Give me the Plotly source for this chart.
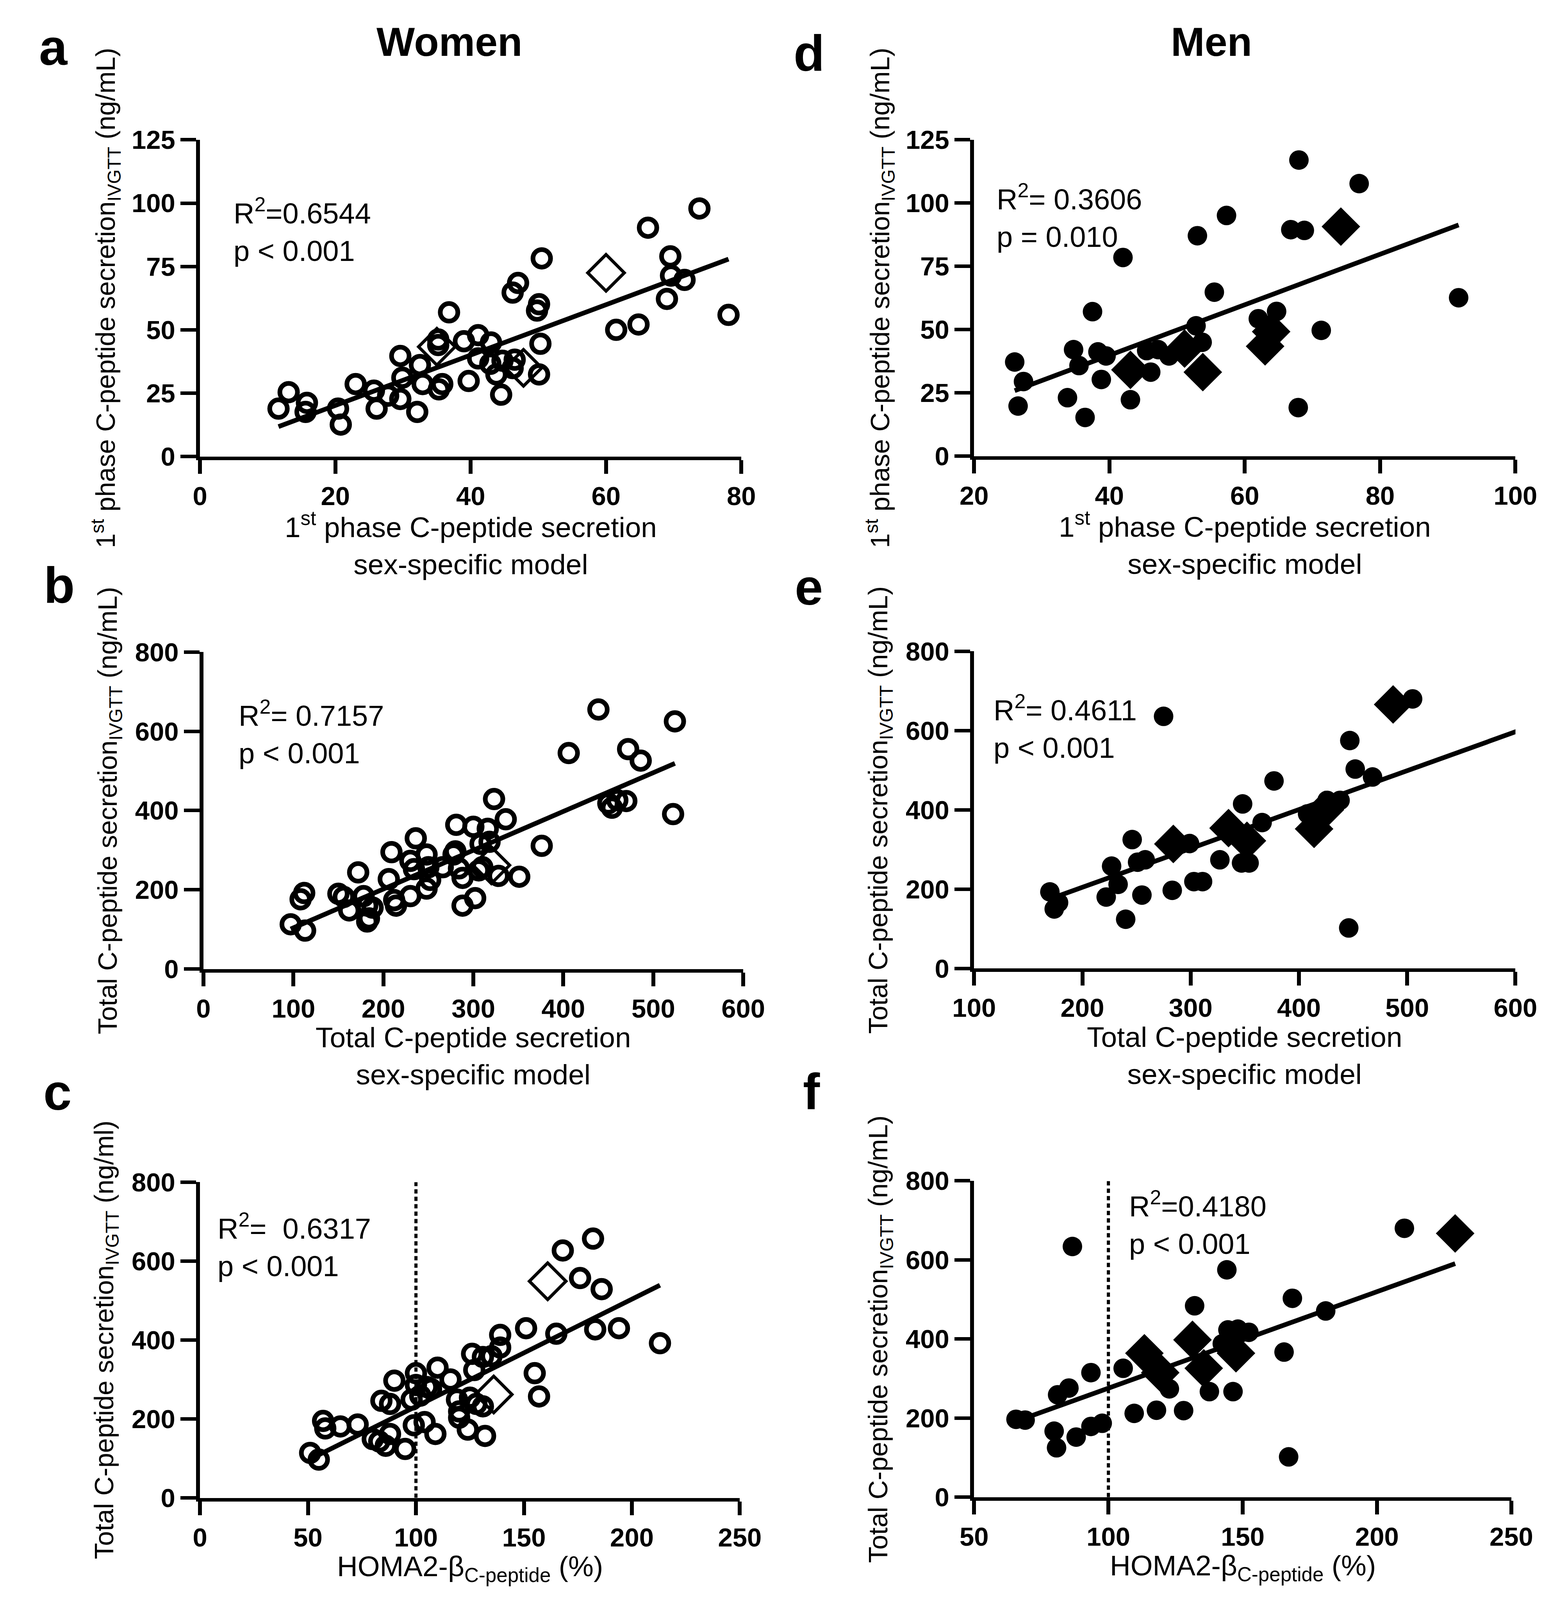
import plotly.graph_objects as go

W, H = 4015, 4748          # reference size; all pixel positions below are in this frame
HF = 4110                  # drawn height, so that the whole figure fits in the photographed page
FONT = "Liberation Sans, Arial, sans-serif"

# ---------------- data ----------------
# a: women, 1st phase
a_circ_x = [13.1, 11.6, 15.8, 15.6, 20.4, 20.8, 23.0, 26.1, 25.7, 27.8,
            29.6, 29.9, 29.6, 32.1, 32.5, 32.9, 35.3, 35.8, 35.2, 36.8,
            39.0, 39.7, 41.1, 41.1, 43.0, 42.9, 43.8, 44.5, 44.7, 46.2,
            46.5, 46.2, 47.0, 49.8, 50.1, 50.3, 50.1, 50.5, 61.5, 64.8,
            66.2, 69.0, 69.5, 69.6, 71.6, 73.8, 78.1, 35.2]
a_circ_y = [25.4, 18.9, 21.2, 17.6, 18.9, 12.6, 28.6, 18.9, 26.0, 24.0,
            39.7, 31.1, 22.7, 17.6, 36.1, 28.6, 26.5, 28.6, 46.2, 56.9,
            45.5, 29.8, 47.9, 38.7, 45.0, 36.6, 32.4, 24.4, 37.8, 34.9,
            38.2, 64.7, 68.5, 57.6, 60.1, 44.5, 32.4, 78.2, 50.0, 52.1,
            90.3, 62.2, 79.0, 71.4, 69.7, 97.9, 55.9, 44.0]
a_diam_x = [35.0, 47.8, 60.0]
a_diam_y = [43.3, 35.0, 72.5]

# b: women, total
b_circ_x = [97, 113, 108, 112, 150, 156, 162, 172, 178, 182, 184, 182, 188, 206,
            209, 212, 214, 230, 230, 236, 234, 248, 248, 252, 250, 266, 280, 278,
            281, 284, 288, 300, 316, 308, 318, 310, 306, 302, 288, 323, 336, 328,
            351, 376, 406, 439, 472, 486, 450, 454, 460, 470, 524, 522]
b_circ_y = [113, 97, 176, 192, 190, 182, 148, 244, 184, 160, 128, 120, 155, 227,
            295, 174, 160, 184, 273, 330, 252, 289, 203, 225, 257, 257, 297, 289,
            364, 254, 230, 359, 354, 316, 321, 257, 249, 179, 160, 429, 378, 235,
            233, 311, 545, 655, 555, 526, 418, 407, 426, 424, 625, 391]
b_diam_x = [320]
b_diam_y = [262]

# c: women, HOMA2-beta
c_circ_x = [51, 55, 57, 58, 65, 73, 80, 83, 86, 88, 95, 84, 88, 90, 98, 100, 100,
            99, 104, 102, 105, 107, 109, 110, 116, 119, 120, 120, 124, 126, 127,
            125, 128, 131, 132, 131, 135, 139, 139, 151, 155, 157, 165, 168, 176,
            182, 186, 183, 194, 213]
c_circ_y = [114, 97, 195, 176, 181, 186, 149, 143, 132, 162, 124, 246, 238, 297,
            249, 316, 286, 184, 192, 259, 281, 276, 162, 330, 300, 249, 219, 203,
            173, 365, 324, 254, 238, 232, 157, 357, 359, 381, 413, 430, 316, 257,
            416, 627, 557, 657, 529, 427, 430, 392]
c_diam_x = [136, 161]
c_diam_y = [262, 549]

# d: men, 1st phase
d_circ_x = [26.0, 26.5, 27.3, 34.7, 35.5, 33.8, 37.5, 38.3, 39.5, 38.8, 36.4,
            42.0, 43.1, 45.5, 47.2, 46.1, 48.8, 52.8, 53.7, 53.0, 55.5, 57.3,
            62.0, 64.7, 66.8, 68.8, 68.0, 67.9, 71.3, 76.9, 91.6]
d_circ_y = [37.2, 19.8, 29.5, 42.1, 35.8, 23.1, 57.1, 41.2, 39.6, 30.3, 15.3,
            78.5, 22.3, 41.7, 42.1, 33.2, 39.6, 51.5, 45.0, 87.1, 64.8, 95.1,
            54.3, 57.2, 89.5, 89.2, 117.0, 19.2, 49.7, 107.7, 62.6]
d_diam_x = [43.1, 51.1, 53.8, 63.9, 63.0, 74.2]
d_diam_y = [34.1, 42.5, 33.2, 49.2, 43.4, 90.7]

# e: men, total
e_circ_x = [170, 178, 174, 227, 233, 222, 240, 246, 251, 258, 255, 299, 283, 275,
            303, 311, 327, 347, 354, 348, 366, 377, 426, 438, 447, 452, 468, 505,
            446, 601, 408]
e_circ_y = [193, 166, 150, 258, 212, 180, 124, 325, 268, 274, 185, 315, 197, 636,
            219, 219, 274, 266, 266, 415, 368, 473, 424, 424, 575, 503, 483, 680,
            102, 466, 390]
e_diam_x = [284, 335, 352, 414, 424, 487]
e_diam_y = [314, 354, 322, 352, 400, 666]

# f: men, HOMA2-beta
f_circ_x = [65.6, 69.0, 79.8, 80.7, 81.1, 85.3, 86.6, 88.0, 93.5, 93.5, 97.7,
            105.5, 109.6, 117.9, 122.7, 128.0, 132.1, 137.6, 142.4, 144.1, 144.5,
            148.2, 152.3, 146.4, 165.4, 167.1, 168.5, 180.9, 210.2]
f_circ_y = [197, 195, 167, 125, 259, 276, 634, 152, 179, 315, 187, 326, 212, 220,
            274, 219, 484, 267, 388, 575, 423, 425, 417, 267, 367, 102, 503, 471, 680]
f_diam_x = [113.4, 119.3, 131.3, 135.5, 147.5, 229.1]
f_diam_y = [364, 315, 398, 326, 364, 667]

# linear fits (slope, intercept)
fit_slope = {"a": 0.994, "b": 0.979, "c": 2.72, "d": 0.998, "e": 0.981, "f": 2.44}
fit_icpt = {"a": 0.27, "b": 6.1, "c": -40.5, "d": -0.06, "e": 8.4, "f": 31.7}

stats_text = {
    "a": "R<sup>2</sup>=0.6544<br>p < 0.001",
    "b": "R<sup>2</sup>= 0.7157<br>p < 0.001",
    "c": "R<sup>2</sup>=\u00a0 0.6317<br>p < 0.001",
    "d": "R<sup>2</sup>= 0.3606<br>p = 0.010",
    "e": "R<sup>2</sup>= 0.4611<br>p < 0.001",
    "f": "R<sup>2</sup>=0.4180<br>p < 0.001",
}

y_titles = {
    "a": "1<sup>st</sup> phase C-peptide secretion<sub>IVGTT</sub> (ng/mL)",
    "b": "Total C-peptide secretion<sub>IVGTT</sub> (ng/mL)",
    "c": "Total C-peptide secretion<sub>IVGTT</sub> (ng/ml)",
    "d": "1<sup>st</sup> phase C-peptide secretion<sub>IVGTT</sub> (ng/mL)",
    "e": "Total C-peptide secretion<sub>IVGTT</sub> (ng/mL)",
    "f": "Total C-peptide secretion<sub>IVGTT</sub> (ng/mL)",
}
x_titles = {
    "a": "1<sup>st</sup> phase C-peptide secretion<br>sex-specific model",
    "b": "Total C-peptide secretion<br>sex-specific model",
    "c": "HOMA2-\u03b2<sub>C-peptide</sub> (%)",
    "d": "1<sup>st</sup> phase C-peptide secretion<br>sex-specific model",
    "e": "Total C-peptide secretion<br>sex-specific model",
    "f": "HOMA2-\u03b2<sub>C-peptide</sub> (%)",
}

# ---------------- layout geometry (pixels of the reference) ----------------
# left, right, top, bottom of each plot area
boxes = {
    "a": (461, 1887, 367, 1321),
    "b": (470, 1892, 1910, 2865),
    "c": (461, 1883, 3507, 4458),
    "d": (2500, 3926, 367, 1320),
    "e": (2500, 3926, 1908, 2863),
    "f": (2500, 3915, 3503, 4456),
}
xr = {"a": [0, 80], "b": [0, 600], "c": [0, 250], "d": [20, 100], "e": [100, 600], "f": [50, 250]}
yr = {"a": [0, 125], "b": [0, 800], "c": [0, 800], "d": [0, 125], "e": [0, 800], "f": [0, 800]}
xd = {"a": 20, "b": 100, "c": 50, "d": 20, "e": 100, "f": 50}
yd = {"a": 25, "b": 200, "c": 200, "d": 25, "e": 200, "f": 200}
stats_pos = {"a": (547, 525), "b": (561, 2038), "c": (505, 3583),
             "d": (2557, 482), "e": (2549, 2021), "f": (2906, 3516)}

data = {
    "a": (a_circ_x, a_circ_y, a_diam_x, a_diam_y),
    "b": (b_circ_x, b_circ_y, b_diam_x, b_diam_y),
    "c": (c_circ_x, c_circ_y, c_diam_x, c_diam_y),
    "d": (d_circ_x, d_circ_y, d_diam_x, d_diam_y),
    "e": (e_circ_x, e_circ_y, e_diam_x, e_diam_y),
    "f": (f_circ_x, f_circ_y, f_diam_x, f_diam_y),
}


def px(x):
    return x / W


def py(y):
    return 1 - y / H


fig = go.Figure()
annotations = []
women = ["a", "b", "c"]

for i, k in enumerate(["a", "b", "c", "d", "e", "f"]):
    n = "" if i == 0 else str(i + 1)
    xa, ya = "x" + n, "y" + n
    cx, cy, dx, dy = data[k]
    is_women = k in women

    # regression line over the range of the data
    allx = cx + dx
    x0, x1 = min(allx), max(allx)
    fig.add_trace(go.Scatter(
        x=[x0, x1], y=[fit_slope[k] * x0 + fit_icpt[k], fit_slope[k] * x1 + fit_icpt[k]],
        mode="lines", line=dict(color="black", width=12), xaxis=xa, yaxis=ya,
        cliponaxis=False))

    if k in ("c", "f"):
        fig.add_trace(go.Scatter(
            x=[100, 100], y=yr[k], mode="lines",
            line=dict(color="black", width=8, dash="11px,8px"), xaxis=xa, yaxis=ya))

    if is_women:
        circ = dict(symbol="circle-open", size=45, color="black", line=dict(width=12, color="black"))
        diam = dict(symbol="diamond-open", size=72, color="black", line=dict(width=8, color="black"))
    else:
        circ = dict(symbol="circle", size=50, color="black", line=dict(width=0))
        diam = dict(symbol="diamond", size=76, color="black", line=dict(width=0))

    fig.add_trace(go.Scatter(x=cx, y=cy, mode="markers", marker=circ,
                             xaxis=xa, yaxis=ya, cliponaxis=False))
    fig.add_trace(go.Scatter(x=dx, y=dy, mode="markers", marker=diam,
                             xaxis=xa, yaxis=ya, cliponaxis=False))

    l, r, t, b = boxes[k]
    common = dict(showline=True, linecolor="black", ticks="outside",
                  tickcolor="black", showgrid=False, zeroline=False,
                  tickfont=dict(family=FONT, size=67, color="black", weight="bold"))
    fig.layout["xaxis" + n] = dict(common, domain=[px(l), px(r)], anchor=ya,
                                   range=xr[k], tick0=xr[k][0], dtick=xd[k],
                                   linewidth=9, ticklen=35, tickwidth=10)
    fig.layout["yaxis" + n] = dict(common, domain=[py(b), py(t)], anchor=xa,
                                   range=yr[k], tick0=0, dtick=yd[k],
                                   linewidth=10, ticklen=40, tickwidth=9)

    # stats text
    sx, sy = stats_pos[k]
    annotations.append(dict(text=stats_text[k], x=px(sx), y=py(sy), xref="paper", yref="paper",
                            xanchor="left", yanchor="top", showarrow=False, align="left",
                            font=dict(family=FONT, size=74, color="black")))
    # axis titles
    two_lines = "<br>" in x_titles[k]
    ty = b + (262 if two_lines else 212)
    annotations.append(dict(text=x_titles[k], x=px((l + r) / 2), y=py(ty), xref="paper",
                            yref="paper", xanchor="center", yanchor="middle", showarrow=False,
                            font=dict(family=FONT, size=73, color="black")))
    annotations.append(dict(text=y_titles[k], x=px(l - 248), y=py((t + b) / 2), xref="paper",
                            yref="paper", xanchor="center", yanchor="middle", showarrow=False,
                            textangle=-90, font=dict(family=FONT, size=68, color="black")))

# panel letters and column headings
letters = {"a": (75, 88), "b": (90, 1708), "c": (85, 3236),
           "d": (2065, 106), "e": (2065, 1714), "f": (2072, 3234)}
for k, (lx, ly) in letters.items():
    annotations.append(dict(text="<b>%s</b>" % k, x=px(lx), y=py(ly), xref="paper", yref="paper",
                            xanchor="center", yanchor="middle", showarrow=False,
                            font=dict(family=FONT, size=130, color="black")))
for txt, hx in (("Women", 1118), ("Men", 3125)):
    annotations.append(dict(text="<b>%s</b>" % txt, x=px(hx), y=py(72), xref="paper",
                            yref="paper", xanchor="center", yanchor="middle", showarrow=False,
                            font=dict(family=FONT, size=104, color="black")))

fig.update_layout(
    width=W, height=HF, margin=dict(l=0, r=0, t=0, b=0),
    paper_bgcolor="white", plot_bgcolor="white", showlegend=False,
    annotations=annotations, font=dict(family=FONT, color="black"),
)

fig.write_html("out.html")
